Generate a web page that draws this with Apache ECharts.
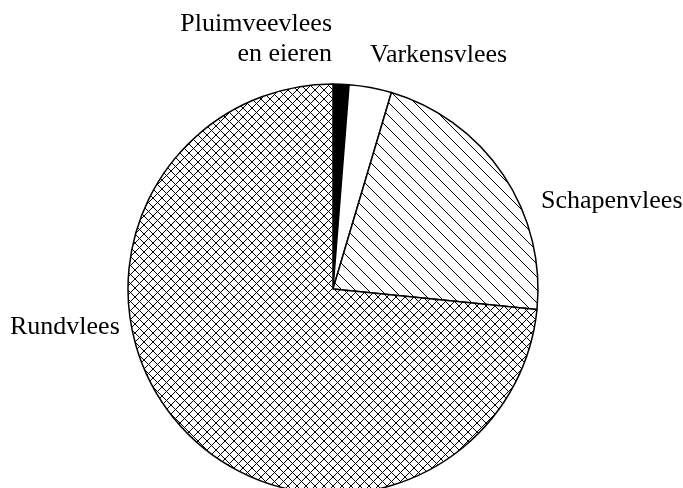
<!DOCTYPE html>
<html>
<head>
<meta charset="utf-8">
<script src="https://cdn.jsdelivr.net/npm/echarts@6/dist/echarts.min.js"></script>
<style>
  html, body { margin: 0; padding: 0; background: #fff; }
  #main { width: 683px; height: 488px; }
</style>
</head>
<body>
<div id="main"></div>
<script>
// aandeel per vleessoort (procent), met de klok mee vanaf boven
const categories = ['Pluimveevlees\nen eieren', 'Varkensvlees', 'Schapenvlees', 'Rundvlees'];
const values = [1.25, 3.35, 22.0, 73.4];

// arceringen als canvas-patroon
function hatch(size, cross) {
    const c = document.createElement('canvas');
    c.width = size; c.height = size;
    const ctx = c.getContext('2d');
    ctx.fillStyle = '#fff';
    ctx.fillRect(0, 0, size, size);
    ctx.strokeStyle = '#000';
    ctx.lineWidth = 1;
    ctx.beginPath();
    // "\" richting
    ctx.moveTo(-1, -1); ctx.lineTo(size + 1, size + 1);
    ctx.moveTo(-1, size - 1); ctx.lineTo(1, size + 1);
    ctx.moveTo(size - 1, -1); ctx.lineTo(size + 1, 1);
    if (cross) {
        // "/" richting
        ctx.moveTo(size + 1, -1); ctx.lineTo(-1, size + 1);
        ctx.moveTo(1, -1); ctx.lineTo(-1, 1);
        ctx.moveTo(size + 1, size - 1); ctx.lineTo(size - 1, size + 1);
    }
    ctx.stroke();
    return c;
}

const fills = [
    '#000',
    '#fff',
    { image: hatch(13, false), repeat: 'repeat' },
    { image: hatch(9, true), repeat: 'repeat' }
];

// label plekken
const labelPos = [
    { x: 332, y: 39, align: 'right' },
    { x: 370, y: 55, align: 'left' },
    { x: 541, y: 201, align: 'left' },
    { x: 10, y: 327, align: 'left' }
];

var chart = echarts.init(document.getElementById('main'));
const option = {
    backgroundColor: '#fff',
    animation: false,
    series: [
        {
            type: 'pie',
            center: [333, 289],
            radius: 205,
            startAngle: 90,
            clockwise: true,
            avoidLabelOverlap: false,
            label: {
                show: true,
                position: 'outside',
                fontFamily: 'Liberation Serif',
                fontSize: 26,
                lineHeight: 30,
                color: '#000',
                align: 'right'
            },
            labelLine: { show: false },
            labelLayout: function (params) {
                const p = labelPos[params.dataIndex];
                return { x: p.x, y: p.y, align: p.align, verticalAlign: 'middle' };
            },
            itemStyle: {
                borderColor: '#000',
                borderWidth: 1.5
            },
            emphasis: { disabled: true },
            data: categories.map((name, i) => ({
                name: name,
                value: values[i],
                itemStyle: { color: fills[i] },
                label: { align: labelPos[i].align }
            }))
        }
    ]
};
option && chart.setOption(option);
window.onresize = () => {
    chart.resize();
};
</script>
</body>
</html>
